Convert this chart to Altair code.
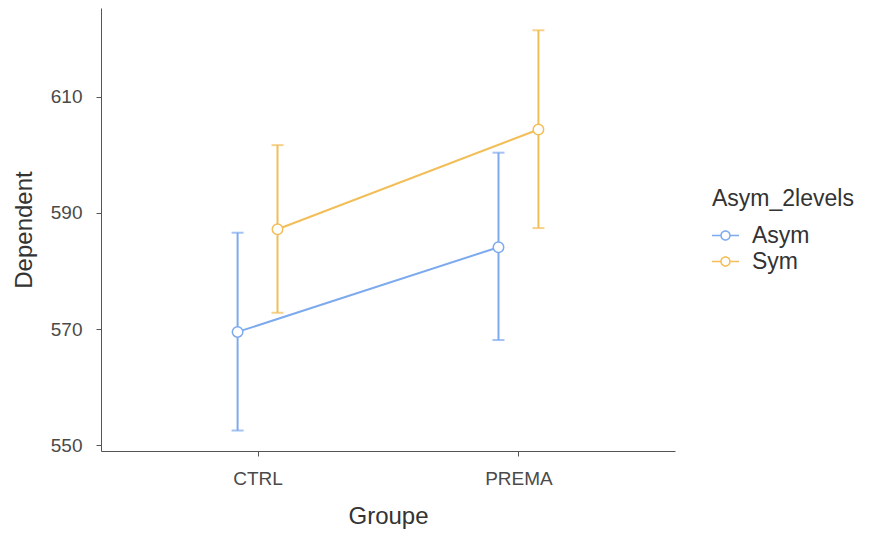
import altair as alt
import pandas as pd

groups = ["CTRL", "PREMA"]
series = ["Asym", "Sym"]
asym_mean = [569.5, 584.1]
asym_low = [552.5, 568.1]
asym_high = [586.6, 600.4]
sym_mean = [587.2, 604.4]
sym_low = [572.8, 587.4]
sym_high = [601.7, 621.5]
colors = ["#7DAAEE", "#F2BE58"]

rows = []
for i, g in enumerate(groups):
    rows.append(dict(Groupe=g, gi=i + 1, s=series[0], si=0, mean=asym_mean[i], lo=asym_low[i], hi=asym_high[i]))
    rows.append(dict(Groupe=g, gi=i + 1, s=series[1], si=1, mean=sym_mean[i], lo=sym_low[i], hi=sym_high[i]))
df = pd.DataFrame(rows)

font = "Liberation Sans"
base = alt.Chart(df).transform_calculate(
    xp="datum.gi + (datum.si - 0.5) * 0.153"
)

xenc = alt.X("xp:Q", scale=alt.Scale(domain=[0.4, 2.6], nice=False, zero=False),
             axis=alt.Axis(values=[1, 2], labelExpr="datum.value == 1 ? 'CTRL' : 'PREMA'",
                           title="Groupe", grid=False, tickSize=5, labelFontSize=19,
                           titleFontSize=24, labelPadding=13, titlePadding=16,
                           labelColor="#4a4a4a", titleColor="#333333", titleFontWeight="normal",
                           domainColor="#555555", tickColor="#555555", labelFont=font, titleFont=font))
yscale = alt.Scale(domain=[548.97, 625.34], nice=False, zero=False)
yenc = alt.Y("mean:Q", scale=yscale,
             axis=alt.Axis(values=[550, 570, 590, 610], title="Dependent", grid=False, tickSize=5,
                           labelFontSize=19, titleFontSize=24, labelPadding=14, titlePadding=14,
                           labelColor="#4a4a4a", titleColor="#333333", titleFontWeight="normal",
                           domainColor="#555555", tickColor="#555555", labelFont=font, titleFont=font))

# legend glyph: line segments + ring, drawn as filled shapes
sym_path = ("M-1,-0.056L-0.389,-0.056L-0.389,0.056L-1,0.056Z"
            "M0.389,-0.056L1,-0.056L1,0.056L0.389,0.056Z"
            "M0.389,0A0.389,0.389,0,1,1,-0.389,0A0.389,0.389,0,1,1,0.389,0Z"
            "M0.278,0A0.278,0.278,0,1,0,-0.278,0A0.278,0.278,0,1,0,0.278,0Z")

legend = alt.Legend(title="Asym_2levels", orient="none", legendX=611, legendY=180,
                    symbolType=sym_path, symbolSize=729, symbolStrokeWidth=0, symbolOpacity=1,
                    titleFontSize=23, labelFontSize=23, titleFont=font, labelFont=font,
                    titleFontWeight="normal", titleColor="#333333", labelColor="#333333",
                    rowPadding=0, labelOffset=13, titlePadding=11)
color = alt.Color("s:N", scale=alt.Scale(domain=series, range=colors), legend=legend)

lines = base.mark_line(strokeWidth=2).encode(x=xenc, y=yenc, detail="s:N", color=color)

rules = base.mark_rule(strokeWidth=2).encode(
    x="xp:Q", y=alt.Y("lo:Q", scale=yscale), y2="hi:Q", color=color)

caps_lo = base.mark_tick(orient="horizontal", size=12, thickness=2).encode(
    x="xp:Q", y=alt.Y("lo:Q", scale=yscale), color=color)
caps_hi = base.mark_tick(orient="horizontal", size=12, thickness=2).encode(
    x="xp:Q", y=alt.Y("hi:Q", scale=yscale), color=color)

points = base.mark_point(filled=False, fill="white", fillOpacity=1, size=110, strokeWidth=1.5, opacity=1).encode(
    x="xp:Q", y="mean:Q", color=color)

chart = alt.layer(lines, rules, caps_lo, caps_hi, points).properties(
    width=574, height=443,
    background="white",
    autosize=alt.AutoSizeParams(type="none"),
    padding={"left": 93, "top": 0, "right": 191, "bottom": 83},
).configure_view(stroke=None, strokeOpacity=0, strokeWidth=0)

chart.save("out.html", embed_options={"renderer": "svg", "actions": False})
